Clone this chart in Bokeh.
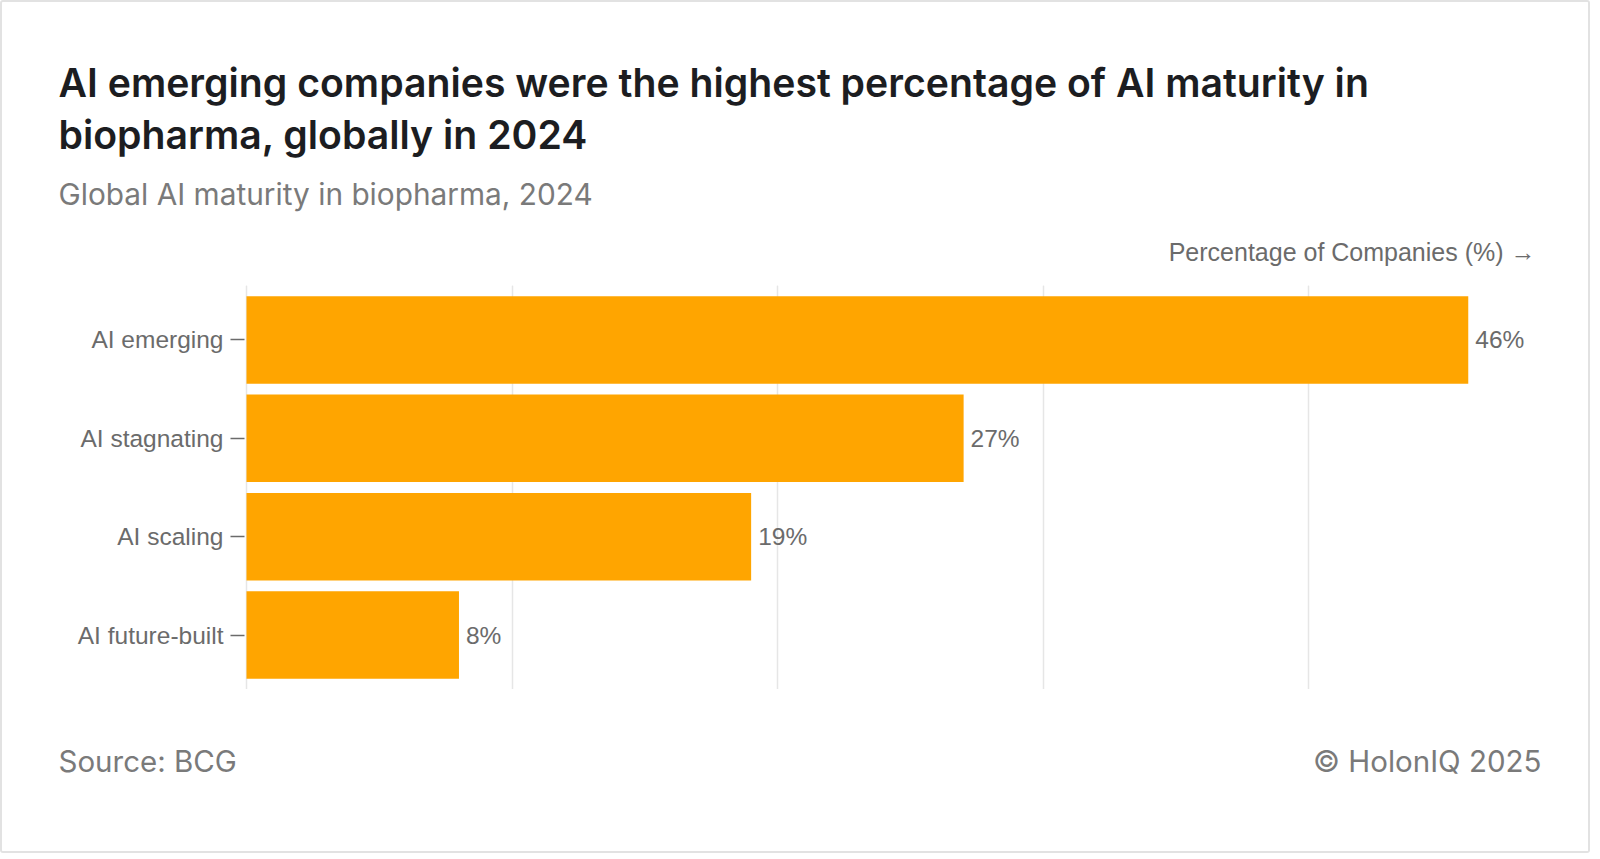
from bokeh.plotting import figure
from bokeh.models import Range1d, FactorRange, FixedTicker, ColumnDataSource, Grid
from bokeh.layouts import column
from bokeh.core.properties import value
from bokeh.embed import file_html
from bokeh.resources import INLINE

# ---- data ----
categories = ["AI emerging", "AI stagnating", "AI scaling", "AI future-built"]
percentages = [46, 27, 19, 8]
value_labels = ["46%", "27%", "19%", "8%"]
grid_ticks = [0, 10, 20, 30, 40]

title_lines = ["AI emerging companies were the highest percentage of AI maturity in",
               "biopharma, globally in 2024"]
subtitle = "Global AI maturity in biopharma, 2024"
axis_title = "Percentage of Companies (%) \u2192"
source_text = "Source: BCG"
credit_text = "\u00a9 HolonIQ 2025"

W = 1586
HEAD_H, CHART_H, FOOT_H = 283, 404, 162
FL, FR = 242, 47
PX_PER_PCT = 26.56
x_start = -2 / PX_PER_PCT
x_end = x_start + (W - FL - FR) / PX_PER_PCT

ORANGE = "#FFA500"
LABEL_GREY = "#6b6b6b"
SOFT_GREY = "#7a7a7a"
DARK = "#1c1d21"


def text_panel(h):
    f = figure(width=W, height=h, output_backend="svg", toolbar_location=None,
               x_range=Range1d(0, W), y_range=Range1d(h, 0),
               x_axis_location=None, y_axis_location=None,
               min_border=0, min_border_left=0, min_border_right=0,
               min_border_top=0, min_border_bottom=0)
    f.frame_align = False
    f.outline_line_color = None
    f.xgrid.visible = False
    f.ygrid.visible = False
    f.background_fill_color = "white"
    f.border_fill_color = "white"
    return f


def put(f, txt, x, y, size, color, font="Inter", style="normal", align="left"):
    f.text(x=[x], y=[y], text=[txt], text_font=value(font), text_font_size=size,
           text_color=color, text_font_style=style, text_align=align,
           text_baseline="alphabetic")


# ---- header ----
head = text_panel(HEAD_H)
title_font = "'Inter SemiBold', Inter"
put(head, title_lines[0], 56, 80, "39.2px", DARK, font=title_font, style="bold")
put(head, title_lines[1], 56, 132, "39.2px", DARK, font=title_font, style="bold")
put(head, subtitle, 56, 191, "29.8px", SOFT_GREY)
put(head, axis_title, 1533, 249, "25px", LABEL_GREY, font="Liberation Sans", align="right")

# ---- chart ----
src = ColumnDataSource(dict(cat=categories, val=percentages, lab=value_labels))
p = figure(width=W, height=CHART_H, output_backend="svg", toolbar_location=None,
           x_range=Range1d(x_start, x_end),
           y_range=FactorRange(*categories[::-1], range_padding=0.053,
                               range_padding_units="absolute"),
           x_axis_location=None,
           min_border_left=FL, min_border_right=FR, min_border_top=0, min_border_bottom=0)
p.frame_align = False
p.outline_line_color = None
p.background_fill_color = "white"
p.border_fill_color = "white"
p.ygrid.grid_line_color = None
p.add_layout(Grid(dimension=0, ticker=FixedTicker(ticks=grid_ticks),
                  grid_line_color="#e6e6e6", grid_line_width=1.5), "center")

p.hbar(y="cat", right="val", left=0, height=0.89, source=src, color=ORANGE, line_color=None)
p.text(x="val", y="cat", text="lab", source=src, x_offset=7,
       text_baseline="middle", text_align="left", text_font=value("Liberation Sans"),
       text_font_size="24.5px", text_color=LABEL_GREY)

ya = p.yaxis[0]
ya.axis_line_color = None
ya.major_tick_out = 14
ya.major_tick_in = 0
ya.major_tick_line_color = LABEL_GREY
ya.major_tick_line_width = 1.5
ya.minor_tick_line_color = None
ya.major_label_standoff = 7
ya.major_label_text_font = "Liberation Sans"
ya.major_label_text_font_size = "24.5px"
ya.major_label_text_color = LABEL_GREY

# ---- footer ----
foot = text_panel(FOOT_H)
foot_base = 758 - HEAD_H - CHART_H
put(foot, source_text, 56, foot_base, "29.5px", SOFT_GREY)
put(foot, credit_text, 1539, foot_base, "29.5px", SOFT_GREY, align="right")

layout = column(head, p, foot, spacing=0)
layout.styles = {"border": "2px solid #e2e2e2", "border-radius": "3px"}

open("out.html", "w").write(file_html(layout, INLINE))
